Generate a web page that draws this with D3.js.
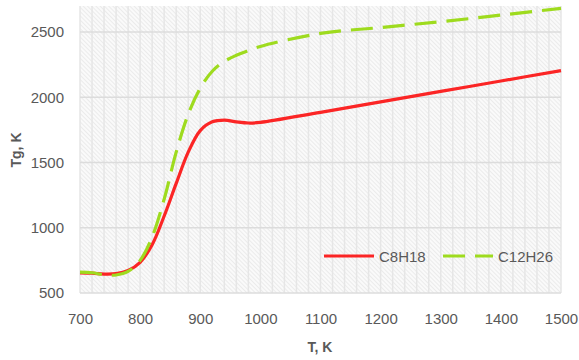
<!DOCTYPE html>
<html>
<head>
<meta charset="utf-8">
<script src="https://cdn.jsdelivr.net/npm/d3@7"></script>
<style>
  body { margin: 0; background: #fff; }
  text { font-family: "Liberation Sans", Arial, sans-serif; fill: #595959; }
</style>
</head>
<body>
<div id="chart"></div>
<script>
// data
var temps = [700, 720, 740, 760, 780, 800, 820, 840, 860, 880, 900, 920, 940, 960, 980, 1000, 1100, 1200, 1300, 1400, 1500];
var c8h18 = [655, 652, 645, 648, 672, 735, 870, 1090, 1340, 1580, 1745, 1812, 1825, 1812, 1803, 1808, 1885, 1965, 2045, 2125, 2205];
var c12h26 = [660, 655, 640, 638, 665, 750, 930, 1220, 1580, 1870, 2070, 2200, 2275, 2322, 2358, 2390, 2490, 2535, 2580, 2630, 2682];
var series_names = ['C8H18', 'C12H26'];
var series_colors = ['#fb2525', '#9edb1e'];
var x_ticks = [700, 800, 900, 1000, 1100, 1200, 1300, 1400, 1500];
var y_ticks = [500, 1000, 1500, 2000, 2500];

var chart_width = 579;
var chart_height = 360;
var margin = { left: 80, right: 18, top: 6, bottom: 67 };

var svg = d3.select('#chart')
    .append('svg')
    .attr('width', chart_width)
    .attr('height', chart_height);

var x_scale = d3.scaleLinear()
    .domain([700, 1500])
    .range([margin.left, chart_width - margin.right]);

var y_scale = d3.scaleLinear()
    .domain([500, 2700])
    .range([chart_height - margin.bottom, margin.top]);

// hatched background
var pattern = svg.append('defs')
    .append('pattern')
    .attr('id', 'hatch')
    .attr('patternUnits', 'userSpaceOnUse')
    .attr('width', 3)
    .attr('height', 3)
    .attr('patternTransform', 'rotate(-45)');
pattern.append('rect').attr('width', 3).attr('height', 3).attr('fill', '#fafafa');
pattern.append('line')
    .attr('x1', 0).attr('y1', 0).attr('x2', 0).attr('y2', 3)
    .attr('stroke', '#e2e2e2')
    .attr('stroke-width', 1.2);

svg.append('rect')
    .attr('x', x_scale(700))
    .attr('y', y_scale(2700))
    .attr('width', x_scale(1500) - x_scale(700))
    .attr('height', y_scale(500) - y_scale(2700))
    .attr('fill', 'url(#hatch)');

// vertical grid every 20 K
svg.selectAll('.vgrid')
    .data(d3.range(700, 1501, 20))
    .enter()
    .append('line')
    .attr('x1', function (d) { return x_scale(d); })
    .attr('x2', function (d) { return x_scale(d); })
    .attr('y1', y_scale(2700))
    .attr('y2', y_scale(500))
    .attr('stroke', '#e6e6e6')
    .attr('stroke-width', 1.5);

// horizontal grid
svg.selectAll('.hgrid')
    .data(y_ticks)
    .enter()
    .append('line')
    .attr('x1', x_scale(700))
    .attr('x2', x_scale(1500))
    .attr('y1', function (d) { return y_scale(d); })
    .attr('y2', function (d) { return y_scale(d); })
    .attr('stroke', '#dcdcdc')
    .attr('stroke-width', 1.5);

// axes labels
var x_axis = d3.axisBottom(x_scale).tickValues(x_ticks).tickFormat(d3.format('d')).tickSize(0).tickPadding(20);
var gx = svg.append('g')
    .attr('transform', 'translate(0,' + y_scale(500) + ')')
    .call(x_axis);
gx.select('.domain').remove();
gx.selectAll('text').attr('font-size', 15).attr('fill', '#595959').style('font-family', '"Liberation Sans", Arial, sans-serif');

var y_axis = d3.axisLeft(y_scale).tickValues(y_ticks).tickFormat(d3.format('d')).tickSize(0).tickPadding(16);
var gy = svg.append('g')
    .attr('transform', 'translate(' + x_scale(700) + ',0)')
    .call(y_axis);
gy.select('.domain').remove();
gy.selectAll('text').attr('font-size', 15).attr('fill', '#595959').style('font-family', '"Liberation Sans", Arial, sans-serif');

// lines
var all_series = [c8h18, c12h26];
var line = d3.line()
    .x(function (d, i) { return x_scale(temps[i]); })
    .y(function (d) { return y_scale(d); })
    .curve(d3.curveCatmullRom.alpha(0.5));

svg.selectAll('.series')
    .data(all_series)
    .enter()
    .append('path')
    .attr('d', line)
    .attr('fill', 'none')
    .attr('stroke', function (d, i) { return series_colors[i]; })
    .attr('stroke-width', 3.2)
    .attr('stroke-dasharray', function (d, i) { return i === 1 ? '22,10' : null; });

// axis titles
svg.append('text')
    .attr('x', 320)
    .attr('y', 352)
    .attr('text-anchor', 'middle')
    .attr('font-size', 14)
    .attr('font-weight', 'bold')
    .text('T, K');

svg.append('text')
    .attr('transform', 'translate(21,150) rotate(-90)')
    .attr('text-anchor', 'middle')
    .attr('font-size', 14)
    .attr('font-weight', 'bold')
    .text('Tg, K');

// legend
var legend_x = [324, 443];
var legend = svg.selectAll('.legend')
    .data(series_names)
    .enter()
    .append('g')
    .attr('transform', function (d, i) { return 'translate(' + legend_x[i] + ',256)'; });

legend.append('line')
    .attr('x1', 0)
    .attr('x2', 50)
    .attr('stroke', function (d, i) { return series_colors[i]; })
    .attr('stroke-width', 3.2)
    .attr('stroke-dasharray', function (d, i) { return i === 1 ? '22,10' : null; });

legend.append('text')
    .attr('x', 55)
    .attr('y', 5.5)
    .attr('font-size', 15)
    .text(function (d) { return d; });
</script>
</body>
</html>
